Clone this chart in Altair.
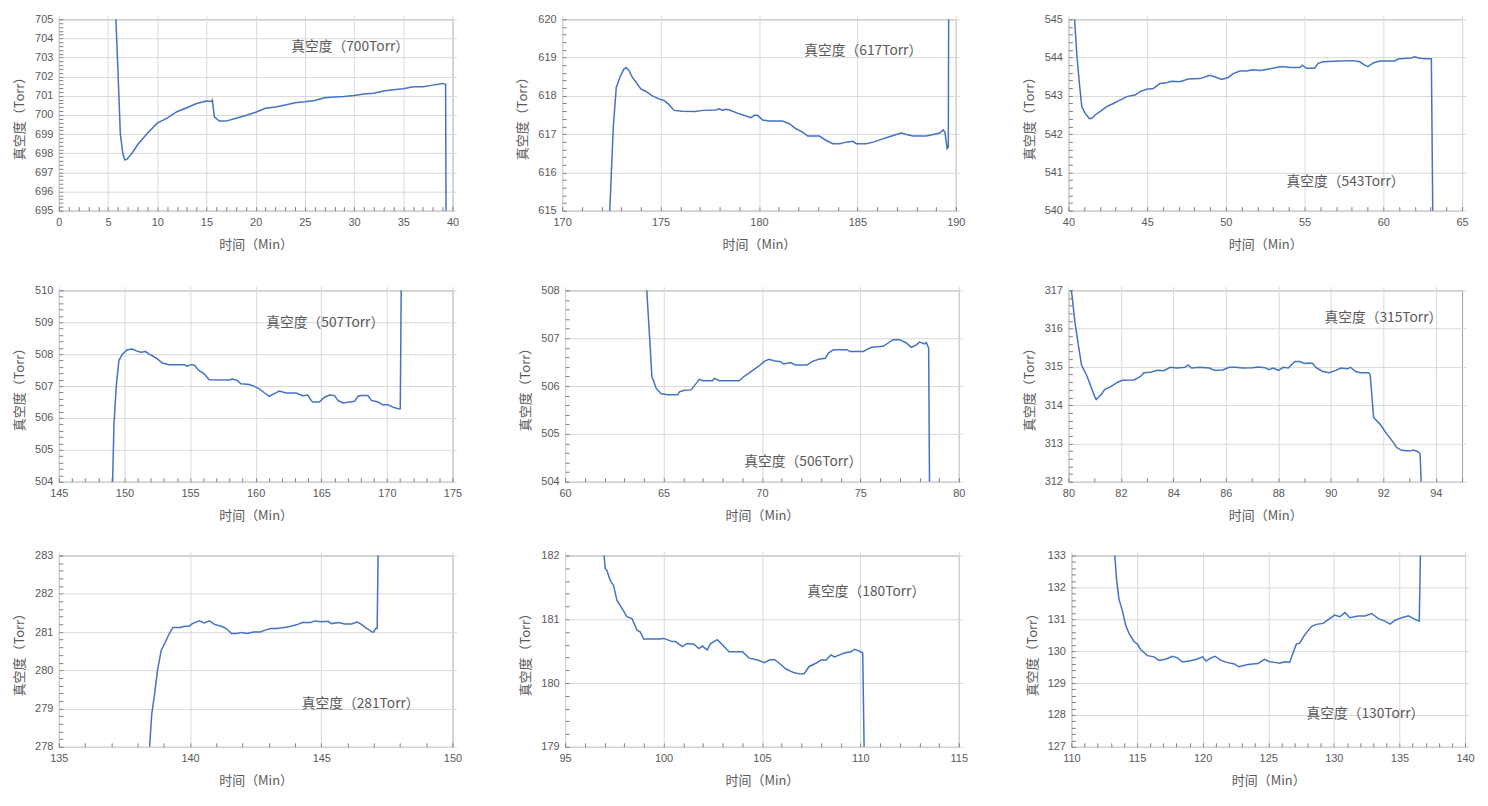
import altair as alt
import pandas as pd

# ---------------- data ----------------
x1 = [5.72, 6.0, 6.25, 6.5, 6.7, 6.9, 7.2, 7.5, 8, 9, 10, 11, 12, 13, 14, 15, 15.5, 15.6, 15.8, 16.3,
      17, 18, 19, 20, 21, 22, 23, 24, 25, 26, 27, 28, 29, 30, 31, 32, 33, 34, 35, 36, 37, 38, 39, 39.3, 39.35]
y1 = [706, 702.4, 699.0, 698.0, 697.65, 697.68, 697.85, 698.05, 698.44, 699.05, 699.57, 699.83, 700.17,
      700.38, 700.6, 700.73, 700.7, 700.78, 699.9, 699.68, 699.68, 699.83, 699.97, 700.14, 700.35, 700.42,
      700.52, 700.64, 700.69, 700.76, 700.9, 700.94, 700.97, 701.02, 701.09, 701.13, 701.25, 701.32,
      701.37, 701.48, 701.48, 701.56, 701.65, 701.6, 694]

x2 = [172.38, 172.6, 172.75, 172.97, 173.14, 173.26, 173.4, 173.57, 173.82, 174.0, 174.24, 174.58, 174.92,
      175.18, 175.43, 175.69, 176.1, 176.79, 177.13, 177.81, 177.98, 178.15, 178.3, 178.5, 179.0, 179.6,
      179.76, 179.93, 180.19, 180.53, 181.2, 181.54, 181.88, 182.22, 182.48, 183.07, 183.4, 183.75, 184.1,
      184.43, 184.77, 184.94, 185.45, 185.8, 186.13, 186.55, 186.98, 187.24, 187.49, 187.83, 188.51,
      188.85, 189.19, 189.36, 189.45, 189.56, 189.62, 189.64]
y2 = [614.5, 617.18, 618.22, 618.53, 618.7, 618.74, 618.66, 618.48, 618.31, 618.18, 618.12, 618.0, 617.92,
      617.88, 617.77, 617.62, 617.6, 617.59, 617.62, 617.63, 617.66, 617.62, 617.65, 617.63, 617.53, 617.43,
      617.49, 617.49, 617.37, 617.34, 617.34, 617.27, 617.14, 617.05, 616.95, 616.95, 616.84, 616.75,
      616.75, 616.79, 616.81, 616.75, 616.75, 616.79, 616.85, 616.92, 616.99, 617.03, 616.99, 616.95,
      616.95, 616.99, 617.03, 617.11, 617.05, 616.62, 616.66, 620.5]

x3 = [40.35, 40.53, 40.7, 40.85, 41.06, 41.33, 41.48, 41.69, 42.0, 42.43, 42.85, 43.28, 43.7, 44.23, 44.55,
      44.97, 45.39, 45.81, 46.24, 46.55, 47.08, 47.61, 48.35, 48.99, 49.41, 49.73, 50.15, 50.47, 50.89,
      51.31, 51.73, 52.16, 52.58, 53.0, 53.42, 53.74, 54.06, 54.69, 54.86, 55.12, 55.64, 55.86, 56.17,
      57.23, 58.08, 58.5, 58.82, 59.03, 59.35, 59.77, 60.73, 60.93, 61.46, 61.78, 61.99, 62.31, 62.73,
      63.05, 63.15]
y3 = [545.3, 544.1, 543.32, 542.72, 542.54, 542.41, 542.41, 542.5, 542.59, 542.72, 542.8, 542.89, 542.98,
      543.02, 543.11, 543.17, 543.19, 543.32, 543.34, 543.38, 543.37, 543.44, 543.45, 543.54, 543.48,
      543.43, 543.48, 543.58, 543.65, 543.65, 543.68, 543.66, 543.69, 543.72, 543.76, 543.76, 543.74,
      543.74, 543.8, 543.72, 543.72, 543.85, 543.89, 543.91, 543.92, 543.89, 543.8, 543.76, 543.86,
      543.91, 543.91, 543.96, 543.98, 543.99, 544.02, 543.98, 543.97, 543.97, 539.5]

x4 = [149.07, 149.2, 149.38, 149.58, 149.84, 150.22, 150.6, 150.86, 151.24, 151.62, 151.88, 152.13, 152.51,
      152.89, 153.4, 154.55, 154.8, 155.06, 155.31, 155.69, 156.08, 156.46, 157.99, 158.24, 158.62,
      158.88, 159.51, 159.9, 160.28, 160.66, 161.04, 161.42, 161.8, 162.32, 163.08, 163.59, 163.97,
      164.23, 164.35, 164.86, 165.24, 165.63, 166.01, 166.27, 166.65, 167.16, 167.54, 167.8, 168.05,
      168.56, 168.82, 169.32, 169.7, 170.08, 170.47, 170.85, 171.02, 171.1]
y4 = [503.5, 505.77, 507.02, 507.8, 508.0, 508.14, 508.16, 508.11, 508.06, 508.08, 508.0, 507.95, 507.85,
      507.72, 507.67, 507.67, 507.62, 507.67, 507.66, 507.48, 507.38, 507.2, 507.19, 507.22, 507.17,
      507.07, 507.05, 506.99, 506.91, 506.79, 506.68, 506.76, 506.84, 506.78, 506.78, 506.7, 506.72,
      506.55, 506.5, 506.5, 506.65, 506.72, 506.7, 506.55, 506.47, 506.5, 506.52, 506.68, 506.7, 506.7,
      506.55, 506.5, 506.41, 506.41, 506.34, 506.29, 506.29, 510.5]

x5 = [64.12, 64.29, 64.41, 64.51, 64.63, 64.88, 65.22, 65.72, 65.81, 66.06, 66.4, 66.65, 66.82, 66.99,
      67.49, 67.58, 67.83, 68.84, 69.09, 69.34, 69.6, 69.85, 70.1, 70.35, 70.61, 70.94, 71.1, 71.45, 71.7,
      72.29, 72.54, 72.88, 73.22, 73.38, 73.64, 74.31, 74.48, 75.15, 75.32, 75.57, 76.16, 76.41, 76.67,
      77.0, 77.34, 77.59, 77.85, 78.01, 78.27, 78.35, 78.47, 78.52]
y5 = [508.2, 507.04, 506.2, 506.09, 505.95, 505.84, 505.82, 505.82, 505.88, 505.91, 505.92, 506.05, 506.14,
      506.11, 506.11, 506.16, 506.11, 506.11, 506.2, 506.27, 506.35, 506.42, 506.51, 506.56, 506.53,
      506.51, 506.46, 506.49, 506.44, 506.44, 506.51, 506.56, 506.58, 506.69, 506.76, 506.76, 506.72,
      506.72, 506.76, 506.81, 506.83, 506.9, 506.97, 506.97, 506.9, 506.81, 506.86, 506.92, 506.88,
      506.91, 506.79, 503.5]

x6 = [80.1, 80.25, 80.38, 80.5, 80.69, 80.88, 81.0, 81.06, 81.25, 81.38, 81.63, 81.88, 82.06, 82.5, 82.75,
      82.88, 83.13, 83.38, 83.63, 83.88, 84.13, 84.44, 84.56, 84.69, 85.0, 85.38, 85.56, 85.88, 86.13,
      86.38, 86.63, 87.0, 87.25, 87.5, 87.63, 87.81, 88.0, 88.19, 88.38, 88.63, 88.81, 89.0, 89.19, 89.31,
      89.44, 89.69, 89.94, 90.19, 90.38, 90.63, 90.75, 90.94, 91.13, 91.44, 91.5, 91.56, 91.63, 91.75,
      91.88, 92.13, 92.38, 92.5, 92.69, 93.0, 93.13, 93.31, 93.4, 93.47]
y6 = [317.1, 316.17, 315.57, 315.05, 314.79, 314.45, 314.23, 314.15, 314.28, 314.41, 314.49, 314.6, 314.65,
      314.66, 314.75, 314.85, 314.86, 314.91, 314.9, 314.99, 314.97, 314.99, 315.05, 314.97, 314.99,
      314.97, 314.91, 314.92, 314.99, 314.99, 314.97, 314.98, 315.0, 314.98, 314.93, 314.97, 314.91,
      314.99, 314.97, 315.14, 315.14, 315.09, 315.1, 315.09, 314.98, 314.88, 314.85, 314.91, 314.97,
      314.95, 314.99, 314.88, 314.85, 314.85, 314.79, 314.28, 313.68, 313.59, 313.5, 313.25, 313.03,
      312.9, 312.82, 312.8, 312.83, 312.79, 312.73, 311.5]

x7 = [138.44, 138.54, 138.64, 138.76, 138.9, 139.06, 139.21, 139.35, 139.64, 139.77, 139.96, 140.09, 140.35,
      140.54, 140.74, 140.93, 141.19, 141.38, 141.58, 141.77, 141.96, 142.16, 142.42, 142.67, 142.87,
      143.06, 143.32, 143.58, 143.84, 144.1, 144.29, 144.61, 144.74, 145.0, 145.26, 145.39, 145.65, 145.9,
      146.16, 146.36, 146.49, 146.68, 146.94, 147.0, 147.07, 147.13, 147.17]
y7 = [277.8, 278.85, 279.34, 280.0, 280.52, 280.74, 280.96, 281.12, 281.12, 281.15, 281.15, 281.22, 281.29,
      281.24, 281.29, 281.2, 281.15, 281.09, 280.96, 280.96, 280.99, 280.96, 281.0, 281.0, 281.05, 281.09,
      281.09, 281.12, 281.15, 281.2, 281.25, 281.25, 281.29, 281.27, 281.28, 281.22, 281.25, 281.21,
      281.21, 281.26, 281.22, 281.12, 281.0, 281.0, 281.09, 281.09, 283.3]

x8 = [96.95, 97.04, 97.12, 97.29, 97.46, 97.63, 97.89, 98.14, 98.4, 98.65, 98.82, 98.99, 99.76, 100.01,
      100.18, 100.44, 100.61, 100.95, 101.2, 101.54, 101.8, 101.97, 102.22, 102.39, 102.73, 102.99, 103.33,
      103.58, 104.01, 104.35, 104.78, 105.12, 105.38, 105.63, 105.88, 106.22, 106.64, 106.98, 107.15,
      107.4, 107.74, 108.0, 108.25, 108.51, 108.68, 108.85, 109.19, 109.53, 109.7, 109.95, 110.12, 110.2]
y8 = [182.1, 181.79, 181.77, 181.61, 181.53, 181.3, 181.17, 181.04, 181.01, 180.83, 180.8, 180.69, 180.69,
      180.7, 180.68, 180.65, 180.65, 180.57, 180.62, 180.61, 180.54, 180.58, 180.52, 180.62, 180.68,
      180.6, 180.49, 180.49, 180.49, 180.39, 180.36, 180.32, 180.36, 180.37, 180.31, 180.22, 180.16,
      180.14, 180.15, 180.26, 180.31, 180.36, 180.36, 180.44, 180.41, 180.43, 180.47, 180.49, 180.53,
      180.5, 180.47, 178.8]

x9 = [113.29, 113.44, 113.62, 113.88, 114.13, 114.39, 114.77, 115.03, 115.28, 115.79, 116.3, 116.68, 117.07,
      117.32, 117.7, 118.09, 118.47, 118.98, 119.49, 120.0, 120.26, 120.64, 120.94, 121.4, 121.91, 122.42,
      122.76, 123.44, 124.21, 124.72, 125.1, 125.61, 125.87, 126.25, 126.63, 126.89, 127.14, 127.4,
      127.78, 128.29, 128.67, 129.18, 129.69, 130.05, 130.46, 130.84, 131.22, 131.86, 132.37, 132.88,
      133.39, 133.9, 134.29, 134.67, 135.18, 135.69, 136.07, 136.51, 136.61]
y9 = [133.1, 132.26, 131.64, 131.28, 130.82, 130.56, 130.3, 130.22, 130.05, 129.86, 129.82, 129.71, 129.74,
      129.77, 129.84, 129.79, 129.66, 129.69, 129.74, 129.82, 129.69, 129.79, 129.84, 129.71, 129.64,
      129.6, 129.51, 129.58, 129.61, 129.74, 129.67, 129.64, 129.62, 129.67, 129.65, 129.94, 130.22,
      130.25, 130.51, 130.77, 130.84, 130.87, 131.02, 131.13, 131.08, 131.21, 131.05, 131.1, 131.1,
      131.18, 131.02, 130.94, 130.85, 130.97, 131.05, 131.11, 131.02, 130.94, 133.3]

x_domains = [[0, 40], [170, 190], [40, 65], [145, 175], [60, 80], [80, 95], [135, 150], [95, 115], [110, 140]]
y_domains = [[695, 705], [615, 620], [540, 545], [504, 510], [504, 508], [312, 317], [278, 283], [179, 182], [127, 133]]
x_major = [5, 5, 5, 5, 5, 2, 5, 5, 5]

labels = ["真空度（700Torr）", "真空度（617Torr）", "真空度（543Torr）",
          "真空度（507Torr）", "真空度（506Torr）", "真空度（315Torr）",
          "真空度（281Torr）", "真空度（180Torr）", "真空度（130Torr）"]
label_x = [29.6, 185.3, 57.6, 165.3, 72.1, 92.0, 146.5, 110.3, 132.4]
label_y = [703.56, 619.18, 540.76, 508.99, 504.42, 316.27, 279.12, 181.43, 128.04]

series_x = [x1, x2, x3, x4, x5, x6, x7, x8, x9]
series_y = [y1, y2, y3, y4, y5, y6, y7, y8, y9]

LINE = "#4472C4"
GRAY = "#595959"
CJK = "Noto Sans CJK SC"


def tick_values(lo, hi, step):
    n = int(round((hi - lo) / step))
    return [round(lo + i * step, 4) for i in range(n + 1)]


def panel(i):
    df = pd.DataFrame({"x": series_x[i], "y": series_y[i]})
    xd, yd, xm = x_domains[i], y_domains[i], x_major[i]
    xtest = f"abs(datum.value/{xm} - round(datum.value/{xm})) < 0.001"
    ytest = "abs(datum.value - round(datum.value)) < 0.001"
    xaxis = alt.Axis(values=tick_values(xd[0], xd[1], 1), tickCount=500, format=".0f",
                     labelExpr=f"({xtest}) ? datum.label : ''",
                     gridOpacity={"condition": {"test": xtest, "value": 1}, "value": 0},
                     title="时间（Min）")
    yaxis = alt.Axis(values=tick_values(yd[0], yd[1], 0.2), tickCount=500, format=".0f",
                     labelExpr=f"({ytest}) ? datum.label : ''",
                     gridOpacity={"condition": {"test": ytest, "value": 1}, "value": 0},
                     title="真空度（Torr）")
    xs = alt.Scale(domain=xd, nice=False, zero=False)
    ys = alt.Scale(domain=yd, nice=False, zero=False)
    line = alt.Chart(df).mark_line(color=LINE, strokeWidth=1.5, clip=True).encode(
        x=alt.X("x:Q", scale=xs, axis=xaxis),
        y=alt.Y("y:Q", scale=ys, axis=yaxis),
        order="x:Q",
    )
    tdf = pd.DataFrame({"x": [label_x[i]], "y": [label_y[i]], "t": [labels[i]]})
    text = alt.Chart(tdf).mark_text(font=CJK, fontSize=13.8, color=GRAY, align="center",
                                    baseline="middle").encode(
        x=alt.X("x:Q", scale=xs), y=alt.Y("y:Q", scale=ys), text="t:N")
    return alt.layer(line, text).properties(width=395, height=192)


rows = [alt.hconcat(*[panel(r * 3 + c) for c in range(3)], spacing=57) for r in range(3)]
top_two = alt.vconcat(rows[0], rows[1], spacing=31)
chart = alt.vconcat(top_two, rows[2], spacing=25).properties(
    padding={"left": 5, "top": 3, "right": 5, "bottom": 3}
).configure_view(
    stroke="#a0a0a0", strokeWidth=1
).configure_axis(
    labelFont="Liberation Sans", labelFontSize=11, labelColor=GRAY,
    titleFont=CJK, titleFontSize=13, titleColor=GRAY, titleFontWeight="normal",
    tickColor="#808080", tickSize=4, tickWidth=1, offset=-4, domain=False,
    gridColor="#d9d9d9", gridWidth=1, labelFlush=False, labelOverlap=False,
    labelPadding=6,
).configure_axisX(titlePadding=11).configure_axisY(titlePadding=8)

chart.save("out.html", embed_options={"renderer": "svg", "actions": False})
